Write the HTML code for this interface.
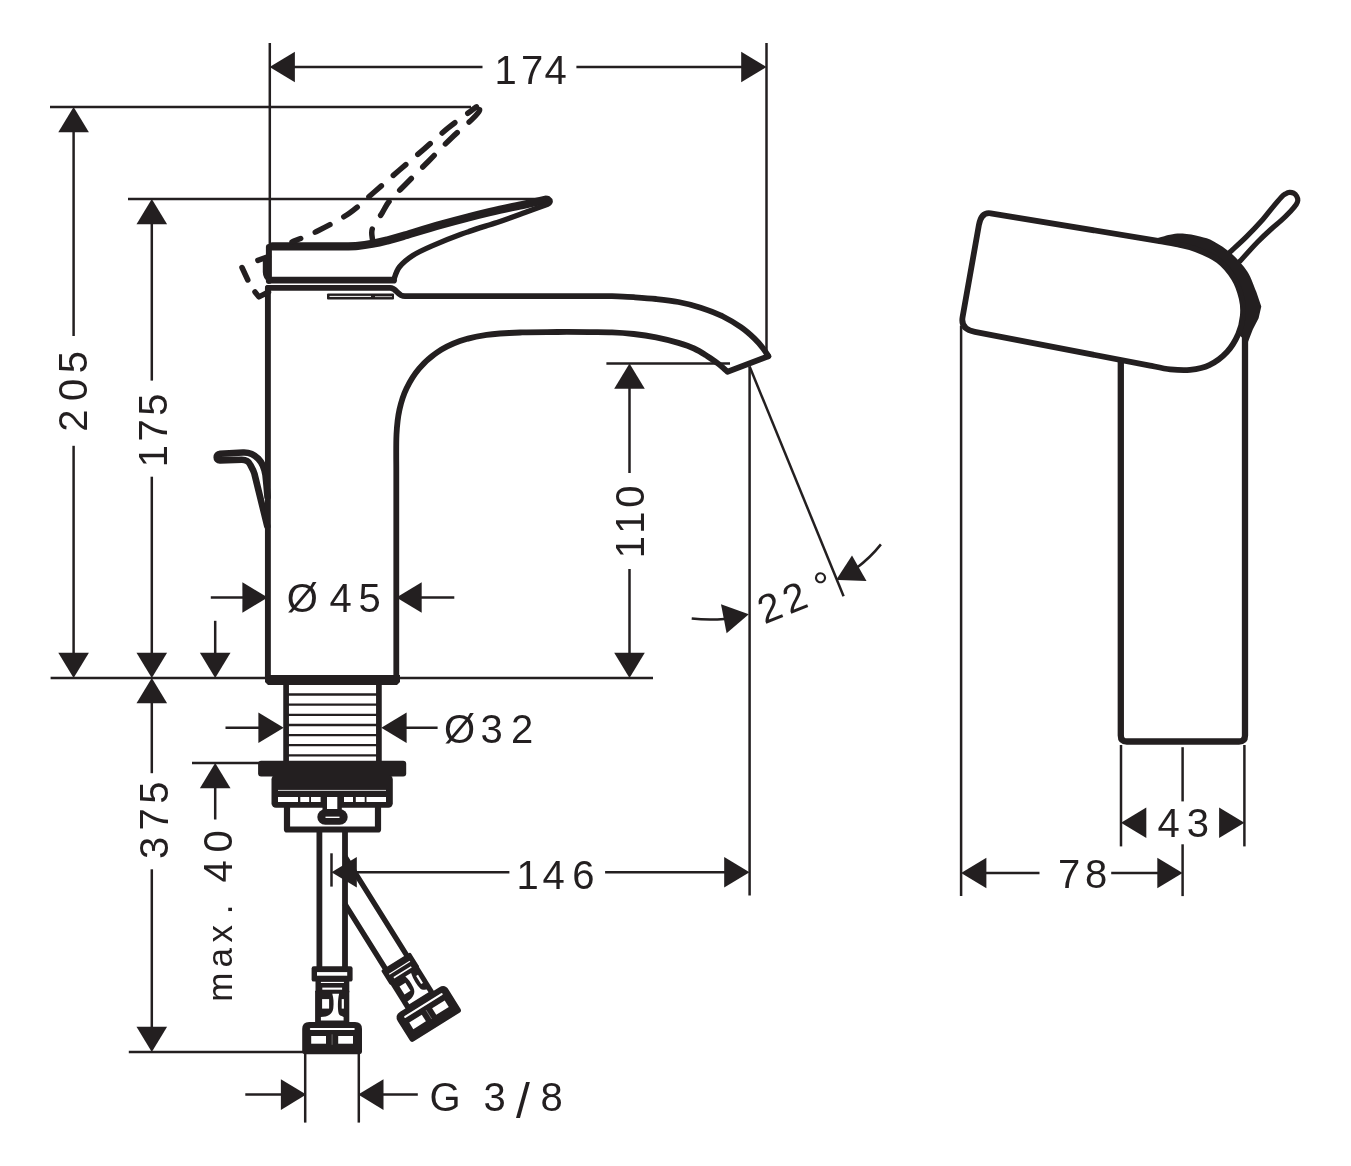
<!DOCTYPE html>
<html lang="de">
<head>
<meta charset="utf-8">
<title>Ma&szlig;zeichnung Waschtischmischer 110</title>
<style>
html,body{margin:0;padding:0;background:#fff;}
body{width:1351px;height:1166px;overflow:hidden;}
svg{display:block;}
.t{stroke:#231f20;stroke-width:2.5;fill:none;}
.h{stroke:#231f20;stroke-width:1.2;fill:none;}
.m{stroke:#231f20;stroke-width:5.8;fill:none;stroke-linejoin:round;stroke-linecap:round;}
.a,.k{fill:#231f20;stroke:none;}
.w{fill:#fff;stroke:none;}
text{font-family:"Liberation Sans",sans-serif;font-size:40px;fill:#231f20;}
#labels{opacity:.999;}
</style>
</head>
<body>
<svg width="1351" height="1166" viewBox="0 0 1351 1166">
<rect x="0" y="0" width="1351" height="1166" fill="#fff"/>
<g id="dims">
<line class="t" x1="269.8" y1="43" x2="269.8" y2="250"/>
<line class="t" x1="766.5" y1="43" x2="766.5" y2="353"/>
<line class="t" x1="294" y1="67" x2="482.5" y2="67"/>
<line class="t" x1="576.4" y1="67" x2="742" y2="67"/>
<polygon class="a" points="269.6,67 294.9,51.7 294.9,82.3"/>
<polygon class="a" points="766.5,67 741.2,51.7 741.2,82.3"/>
<line class="t" x1="50" y1="107" x2="471" y2="107"/>
<line class="t" x1="128" y1="199" x2="544.5" y2="199"/>
<line class="t" x1="73.6" y1="131" x2="73.6" y2="336"/>
<line class="t" x1="73.6" y1="445.8" x2="73.6" y2="654"/>
<polygon class="a" points="73.6,107 58.3,132.3 88.9,132.3"/>
<polygon class="a" points="73.6,678 58.3,652.7 88.9,652.7"/>
<line class="t" x1="151.8" y1="223" x2="151.8" y2="380.6"/>
<line class="t" x1="151.8" y1="476.7" x2="151.8" y2="654"/>
<polygon class="a" points="151.8,199 136.5,224.3 167.1,224.3"/>
<polygon class="a" points="151.8,678 136.5,652.7 167.1,652.7"/>
<line class="t" x1="50.6" y1="678" x2="266" y2="678"/>
<line class="t" x1="399" y1="678" x2="653" y2="678"/>
<polygon class="a" points="151.8,678 136.5,703.3 167.1,703.3"/>
<polygon class="a" points="151.8,1052 136.5,1026.7 167.1,1026.7"/>
<line class="t" x1="151.8" y1="702" x2="151.8" y2="773.2"/>
<line class="t" x1="151.8" y1="869.3" x2="151.8" y2="1028"/>
<line class="t" x1="128.8" y1="1052" x2="303" y2="1052"/>
<line class="t" x1="215.2" y1="620.8" x2="215.2" y2="654"/>
<polygon class="a" points="215.2,678 199.9,652.7 230.5,652.7"/>
<line class="t" x1="192" y1="763" x2="259" y2="763"/>
<polygon class="a" points="215.2,763 199.9,788.3 230.5,788.3"/>
<line class="t" x1="215.2" y1="787" x2="215.2" y2="819.5"/>
<line class="t" x1="210.8" y1="597.5" x2="243" y2="597.5"/>
<polygon class="a" points="267.7,597.5 242.4,582.2 242.4,612.8"/>
<polygon class="a" points="396.4,597.5 421.7,582.2 421.7,612.8"/>
<line class="t" x1="421" y1="597.5" x2="454.3" y2="597.5"/>
<line class="t" x1="225.5" y1="727.7" x2="259" y2="727.7"/>
<polygon class="a" points="283.7,727.7 258.4,712.4 258.4,743"/>
<polygon class="a" points="381.3,727.7 406.6,712.4 406.6,743"/>
<line class="t" x1="405" y1="727.7" x2="437.6" y2="727.7"/>
<line class="t" x1="606.4" y1="363.5" x2="730" y2="363.5"/>
<polygon class="a" points="629.5,363.5 614.2,388.8 644.8,388.8"/>
<polygon class="a" points="629.5,678 614.2,652.7 644.8,652.7"/>
<line class="t" x1="629.5" y1="388" x2="629.5" y2="473"/>
<line class="t" x1="629.5" y1="569" x2="629.5" y2="654"/>
<line class="t" x1="749.6" y1="366.5" x2="749.6" y2="895.6"/>
<line class="t" x1="331.5" y1="853.3" x2="331.5" y2="886.6"/>
<line class="t" x1="357" y1="872.2" x2="509.4" y2="872.2"/>
<line class="t" x1="605.1" y1="872.2" x2="725" y2="872.2"/>
<polygon class="a" points="749.5,872.2 724.2,856.9 724.2,887.5"/>
<line class="t" x1="749.6" y1="366.5" x2="843.6" y2="596.2"/>
<line class="t" x1="305.2" y1="1053" x2="305.2" y2="1122.6"/>
<line class="t" x1="358.8" y1="1053" x2="358.8" y2="1122.6"/>
<line class="t" x1="245.3" y1="1094.6" x2="282" y2="1094.6"/>
<polygon class="a" points="306.2,1094.6 280.9,1079.3 280.9,1109.9"/>
<polygon class="a" points="358.2,1094.6 383.5,1079.3 383.5,1109.9"/>
<line class="t" x1="382" y1="1094.6" x2="417.8" y2="1094.6"/>
<line class="t" x1="961.1" y1="325.8" x2="961.1" y2="896.1"/>
<line class="t" x1="1121" y1="745" x2="1121" y2="846.4"/>
<line class="t" x1="1244.4" y1="745" x2="1244.4" y2="846.4"/>
<line class="t" x1="1182.6" y1="747.2" x2="1182.6" y2="801.4"/>
<line class="t" x1="1182.6" y1="844.3" x2="1182.6" y2="896.1"/>
<polygon class="a" points="1121,822.7 1146.3,807.4 1146.3,838"/>
<polygon class="a" points="1244.4,822.7 1219.1,807.4 1219.1,838"/>
<polygon class="a" points="961.1,873 986.4,857.7 986.4,888.3"/>
<line class="t" x1="986" y1="873" x2="1039.5" y2="873"/>
<line class="t" x1="1111.2" y1="873" x2="1158" y2="873"/>
<polygon class="a" points="1182.6,873 1157.3,857.7 1157.3,888.3"/>
</g>
<g id="labels">
<text text-anchor="middle" y="84.4" x="505.5 532.2 555.7">174</text>
<text text-anchor="middle" y="889.3" x="527.5 553.7 583.3">146</text>
<text text-anchor="middle" y="837" x="1168.6 1197.9">43</text>
<text text-anchor="middle" y="887.6" x="1069 1096">78</text>
<text text-anchor="middle" y="611.6" x="302.2 340.6 369.7">Ø45</text>
<text text-anchor="middle" y="743.1" x="459.5 491.7 522">Ø32</text>
<text text-anchor="middle" y="1111.1"><tspan x="445 470 494.7">G 3</tspan><tspan font-size="50" x="523" y="1117.6">/</tspan><tspan x="551.6" y="1111.1">8</tspan></text>
<text text-anchor="middle" transform="rotate(-90)" y="87" x="-420.7 -389.8 -362.2">205</text>
<text text-anchor="middle" transform="rotate(-90)" y="166.7" x="-456 -430.3 -404.6">175</text>
<text text-anchor="middle" transform="rotate(-90)" y="167.5" x="-847.9 -819.5 -792.7">375</text>
<text text-anchor="middle" transform="rotate(-90)" y="644" x="-547.1 -522.7 -496.6">110</text>
<text text-anchor="middle" transform="rotate(-90)" y="231.5"><tspan font-size="35" x="-987.3 -957.8 -933.7 -909.5">max.</tspan><tspan x="-890 -871.5 -841.5"> 40</tspan></text>
<text text-anchor="middle" transform="translate(764.3,624.6) rotate(-22)" y="0" x="11.3 38.2 69.7">22°</text>
</g>
<g id="faucet">
<path class="m" d="M267.5,497L266.5,485L265.5,475C264.5,468 262,462.5 258.2,458.6C254,454.3 249,452.2 243,452.5L220,453.7C215.6,453.9 215.6,460.5 220,460.4L241.5,459.8C247,459.7 249,462 250.1,464.5C252,468 253.5,470.5 254.4,473.6L267.3,526.3" style="stroke-width:6.6"/>
<path class="m" d="M267.9,288V678" style="stroke-width:5.9"/>
<path class="k" d="M265,675.1H400V682L397,685H268L265,682Z"/>
<path class="m" d="M396.3,678V470C396.3,464.1 396,444.5 396.5,434.4C397,424.3 397.8,417.2 399.5,409.5C401.2,401.8 403.3,395 406.6,388.2C409.9,381.4 414.1,374.5 419.1,368.6C424.1,362.7 430,357.2 436.8,352.6C443.6,348 451.6,344.1 459.9,341.1C468.2,338.2 476.2,336.3 486.6,334.9C497,333.4 510.3,332.9 522.1,332.4C533.9,331.9 546.4,332.1 557.6,332C568.8,331.9 580.1,332 589.2,332.1C598.3,332.2 604.6,332.1 612,332.4C619.4,332.7 626.4,333.2 633.8,334C641.1,334.8 648.7,335.9 656.1,337.4C663.5,338.9 672.1,341 678.4,342.9C684.7,344.8 689.3,346.3 694.1,348.5C698.9,350.7 703.3,353.6 707.4,356.2C711.5,358.8 715.2,361.4 718.6,364C722,366.6 726,370.5 727.5,371.8L768.3,356.2" style="stroke-width:5.8"/>
<path class="m" d="M267.9,287.9H390C397,287.9 397,296.2 405,296.2H612C615.6,296.4 626.4,296.7 633.8,297.2C641.1,297.7 648.7,298.2 656.1,299C663.5,299.8 671,300.6 678.4,302C685.8,303.4 693.3,305.3 700.7,307.7C708.1,310.1 716.3,313.2 723,316.5C729.7,319.8 735.7,323.6 740.9,327.2C746.1,330.8 750.6,334.9 754.3,338.4C758,341.9 760.9,345.4 763.2,348.4C765.5,351.4 767.4,354.9 768.3,356.2" style="stroke-width:5.8"/>
<path class="m" d="M272.5,246.4H340C343,246.3 352.6,246.2 358,245.8C363.4,245.4 367.6,244.7 372.4,243.8C377.2,242.9 381.9,241.8 387,240.5C392.1,239.2 394.1,238.7 403.2,236C412.3,233.3 427.2,228.5 441.7,224.5C456.2,220.5 476.1,215.3 490,212C503.9,208.7 515.8,206.5 525,204.4C534.2,202.3 542.1,200.5 545.5,199.7" style="stroke-width:8.2"/>
<path class="m" d="M393.8,279.6C394.7,277.5 396.2,271 399.4,267C402.6,263 407.4,259 412.8,255.5C418.2,252 424.1,249.4 432.1,245.9C440.1,242.4 451.4,237.8 461,234.3C470.6,230.8 483.5,226.8 490,224.7C496.5,222.6 494.2,223.5 500,221.5C505.8,219.5 517,215.4 525,212.5C533,209.6 543.9,205.6 547.7,204.2Q552.5,201.5 548,198.5" style="stroke-width:5.4"/>
<path class="m" d="M268.9,246.9V281" style="stroke-width:6"/>
<path class="m" d="M271.6,280.15H393.5" style="stroke-width:6.9"/>
<rect class="k" x="327" y="293.6" width="67" height="6" rx="1"/>
<line x1="329.5" y1="296.4" x2="371" y2="296.4" stroke="#fff" stroke-width="1"/>
<line x1="375" y1="296.6" x2="392" y2="296.6" stroke="#fff" stroke-width=".7"/>
<path class="m" d="M292,242C296.1,240.2 307.1,236.3 316.6,231.5C326.2,226.7 339.7,219.8 349.3,213.2C358.9,206.6 365.9,199.2 374.3,192C382.7,184.8 391.2,177.2 399.5,170C407.8,162.8 415.9,156.1 424,149.1C432.1,142.1 440.4,134.2 448.2,127.9C456,121.6 465.9,114.7 470.6,111.2C475.3,107.7 475.5,107.5 476.5,106.8" style="stroke-width:5.5;stroke-dasharray:16.5 15.8;stroke-dashoffset:7"/>
<path class="m" d="M372.4,239C372.4,237.3 370.8,232.9 372.4,228.6C374,224.3 379.1,217.8 382,213.2C384.9,208.5 385.7,205.6 389.7,200.7C393.7,195.8 399.4,190.6 405.9,184C412.4,177.4 420.9,168.9 428.5,161.2C436.1,153.5 444.2,144.9 451.5,137.9C458.8,130.9 467.8,123.5 472.5,118.9C477.2,114.3 478.8,112.7 479.5,110.5C480.2,108.3 477.4,106.3 477,105.5" style="stroke-width:5.5;stroke-dasharray:16.5 15.8;stroke-dashoffset:6.4"/>
<path class="m" d="M242,267.5L247.8,280" style="stroke-width:5.5"/>
<path class="m" d="M255,292L258.9,296.9L268.5,292" style="stroke-width:5.5"/>
<path class="m" d="M257.9,260.3L268.5,256.5" style="stroke-width:5.5"/>
<path class="m" d="M265.2,261V272Q265.2,278 270.5,280.5" style="stroke-width:4.8"/>
<path class="m" d="M286.1,685V761M378.9,685V761" style="stroke-width:5.7;stroke-linecap:butt"/>
<line class="t" x1="288" y1="694.5" x2="377" y2="694.5" style="stroke-width:2.3"/>
<line class="t" x1="288" y1="704.6" x2="377" y2="704.6" style="stroke-width:2.3"/>
<line class="t" x1="288" y1="714.8" x2="377" y2="714.8" style="stroke-width:2.3"/>
<line class="t" x1="288" y1="725" x2="377" y2="725" style="stroke-width:2.3"/>
<line class="t" x1="288" y1="735.1" x2="377" y2="735.1" style="stroke-width:2.3"/>
<line class="t" x1="288" y1="745.2" x2="377" y2="745.2" style="stroke-width:2.3"/>
<line class="t" x1="288" y1="755.4" x2="377" y2="755.4" style="stroke-width:2.3"/>
<rect class="k" x="258.1" y="760.7" width="148.1" height="15.7" rx="3"/>
<rect class="k" x="271.5" y="775" width="121.3" height="32.7" rx="4.5"/>
<line x1="278" y1="790.4" x2="386" y2="790.4" stroke="#e8e8e8" stroke-width=".9"/>
<rect class="w" x="278" y="797" width="20" height="5"/>
<rect class="w" x="300.3" y="797" width="8.9" height="5"/>
<rect class="w" x="311" y="797" width="9.6" height="5"/>
<rect class="w" x="344" y="797" width="9" height="5"/>
<rect class="w" x="355.8" y="797" width="8.9" height="5"/>
<rect class="w" x="366.5" y="797" width="19.5" height="5"/>
<path class="m" d="M287,806V829.5H378V806" style="stroke-width:6.2;stroke-linejoin:round"/>
<rect class="k" x="322.5" y="795" width="19.3" height="18"/>
<rect class="k" x="317.3" y="809.2" width="30.4" height="15.6" rx="8"/>
<rect class="w" x="327" y="797" width="10.3" height="12"/>
<rect class="w" x="325.5" y="816.6" width="14" height="1.4"/>
<path class="m" d="M319.4,832V967M345,832V967" style="stroke-width:5.8;stroke-linecap:butt"/>
</g>
<g id="fit-left" transform="translate(332.1,1038.3)">
<rect class="k" x="-20.5" y="-72" width="41" height="15.3" rx="2.2"/>
<rect class="w" x="-15.1" y="-66.2" width="30.2" height="3.6"/>
<rect class="k" x="-16.6" y="-58" width="33.8" height="12"/>
<rect class="w" x="-11.2" y="-56.4" width="23" height="1.1"/>
<rect class="w" x="-9.8" y="-50.7" width="19.8" height="2.1"/>
<rect class="k" x="-17" y="-47.5" width="34.2" height="32.5"/>
<path class="w" d="M0.2,-44.6H7C5.5,-38 5.5,-30 6.5,-25C7.5,-22 10,-22.5 11.5,-21.2V-17.8H-11.2V-21.2C-4,-21.5 0.5,-24 1.2,-30C1.8,-36 1.5,-40 0.2,-44.6Z"/>
<rect class="w" x="-10" y="-39.2" width="7" height="9.5"/>
<rect class="w" x="9.6" y="-39.2" width="2.2" height="9.5"/>
<path class="k" d="M-29.9,13V-9.3Q-29.9,-16.3 -22.9,-16.3H22.9Q29.9,-16.3 29.9,-9.3V13Q29.9,16 26.9,16H-26.9Q-29.9,16 -29.9,13Z"/>
<rect class="w" x="-22.3" y="-10.4" width="45" height="2.2" rx="1"/>
<rect class="w" x="-20.9" y="-2.3" width="14.8" height="7.7"/>
<rect class="w" x="6.1" y="-2.3" width="14.8" height="7.7"/>
<line x1="0" y1="-4" x2="0" y2="6.5" stroke="#8a8788" stroke-width=".7"/>
</g>
<g id="fit-right" transform="translate(428.2,1013.5) rotate(-32)">
<path class="m" d="M12.6,-177.4V-60M-12.6,-137.4V-60" style="stroke-width:5.4;stroke-linecap:butt"/>
<rect class="k" x="-17.3" y="-61.5" width="34.6" height="17.5" rx="1.5"/>
<rect class="w" x="-12.2" y="-54.6" width="24.4" height="1.2"/>
<rect class="w" x="-10.2" y="-49.3" width="20.6" height="1.6"/>
<rect class="k" x="-16.6" y="-46" width="33.4" height="32"/>
<path class="w" d="M0.2,-43.5H7C5.5,-37 5.5,-30 6.5,-25C7.5,-22 10,-22.5 11.5,-21.2V-17.8H-11.2V-21.2C-4,-21.5 0.5,-24 1.2,-30C1.8,-36 1.5,-40 0.2,-43.5Z"/>
<rect class="w" x="-10" y="-38.2" width="7" height="9.5"/>
<rect class="w" x="9.6" y="-38.2" width="2.2" height="9.5"/>
<path class="k" d="M-29.9,13V-9.3Q-29.9,-16.3 -22.9,-16.3H22.9Q29.9,-16.3 29.9,-9.3V13Q29.9,16 26.9,16H-26.9Q-29.9,16 -29.9,13Z"/>
<rect class="w" x="-22.3" y="-10.4" width="45" height="2.2" rx="1"/>
<rect class="w" x="-20.9" y="-2.3" width="14.8" height="7.7"/>
<rect class="w" x="6.1" y="-2.3" width="14.8" height="7.7"/>
<line x1="0" y1="-4" x2="0" y2="6.5" stroke="#8a8788" stroke-width=".7"/>
</g>
<polygon class="a" points="331.5,872.2 356.8,856.9 356.8,887.5"/>
<g id="topview">
<path class="m" d="M1120.8,362V735.5Q1120.8,741.5 1126.8,741.5H1239Q1245,741.5 1245,735.5V337" style="stroke-width:6.3"/>
<path class="m" d="M1229.8,252.3C1232.5,249.7 1240.8,242.4 1246.3,236.9C1251.8,231.4 1258.5,224.2 1262.8,219.4C1267.1,214.6 1268.9,211.8 1272,208.1C1275.1,204.4 1279.1,199.7 1281.3,197.3C1283.5,194.9 1284,194.7 1285.4,193.9C1286.8,193.1 1288.1,192.5 1289.5,192.4C1290.9,192.3 1292.4,192.6 1293.6,193.2C1294.8,193.8 1296,195 1296.7,196.2C1297.4,197.4 1297.9,199 1297.8,200.4C1297.7,201.8 1297.4,202.7 1296.2,204.5C1295,206.3 1293.1,208.5 1290.6,211.2C1288.1,213.8 1284.6,217.4 1281.3,220.4C1278,223.4 1275,225.6 1271,229.2C1267,232.8 1262.8,236.7 1257.6,242C1252.4,247.3 1243,257.9 1240.1,261.1" style="stroke-width:5.2;fill:#fff"/>
<path class="k" d="M1156,238.5C1158.3,237.9 1165.6,235.5 1170,234.7C1174.4,233.9 1177.6,233.3 1182.6,233.6C1187.6,233.9 1194.8,235.2 1200,236.5C1205.2,237.8 1208.5,238.5 1213.8,241.4C1219.1,244.3 1226.1,248.7 1231.7,253.7C1237.3,258.7 1243.2,265.2 1247.3,271.5C1251.4,277.8 1254.7,288.2 1256.2,291.6L1261.3,306.5L1258.6,318.3L1252.8,329.5L1247.6,343L1238.3,334C1239,331 1242.2,322.1 1242.8,316.1C1243.4,310.2 1243.2,304.6 1241.7,298.3C1240.2,292 1237.8,284.5 1233.9,278.2C1230,271.9 1224.6,265.2 1218.3,260.4C1212,255.6 1202.7,251.8 1196,249.2C1189.3,246.5 1184.3,245.9 1178,244.5C1171.7,243.1 1161.3,241.4 1158,240.8Z"/>
<path class="m" d="M990.7,213.3L1158,240.8C1161.3,241.4 1171.7,243.1 1178,244.5C1184.3,245.9 1189.3,246.5 1196,249.2C1202.7,251.8 1212,255.6 1218.3,260.4C1224.6,265.2 1230,271.9 1233.9,278.2C1237.8,284.5 1240.2,292 1241.7,298.3C1243.2,304.6 1243.4,310.2 1242.8,316.1C1242.2,322.1 1240.9,328.1 1238.3,334C1235.7,339.9 1232,346.6 1227.2,351.8C1222.4,357 1215.5,362.2 1209.3,365.2C1203.1,368.2 1196.5,369.2 1190,369.9C1183.5,370.6 1177,370.1 1170.3,369.4C1163.6,368.7 1153.4,366.2 1150,365.6L974.9,331.8Q960.4,329.1 962.6,316.9L978.9,225.1Q981.2,211.9 990.7,213.3Z" style="stroke-width:5.8"/>
</g>
<polygon class="a" points="836.1,579.9 852,555.5 866.5,581"/>
<path class="t" d="M856.5,568Q870.5,557.5 880.9,544.4"/>
<polygon class="a" points="748.8,614.3 721,604.3 726.6,633.2"/>
<path class="t" d="M691.7,618.6Q708,620.3 724.5,619"/>
</svg>
</body>
</html>
